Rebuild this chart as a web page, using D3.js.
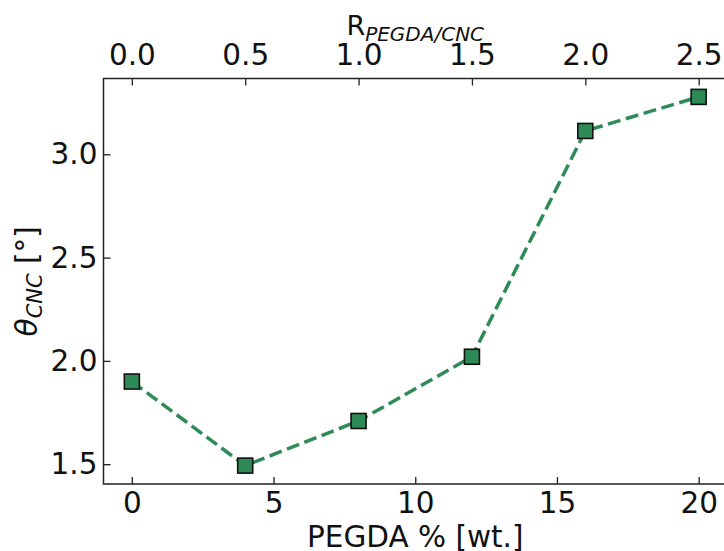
<!DOCTYPE html>
<html><head><meta charset="utf-8">
<script src="https://cdn.jsdelivr.net/npm/d3@7"></script>
<style>body{margin:0;background:#fff;} svg{display:block;font-family:"DejaVu Sans",sans-serif;}</style>
</head><body>
<svg id="c" width="724" height="551"></svg>
<script>
const pegda = [0, 4, 8, 12, 16, 20];
const theta = [1.90, 1.493, 1.709, 2.02, 3.113, 3.278];
const xTicks = [0, 5, 10, 15, 20];
const topTicks = [0.0, 0.5, 1.0, 1.5, 2.0, 2.5];
const yTicks = [1.5, 2.0, 2.5, 3.0];

const svg = d3.select("#c");
const L = 103.5, R = 727, T = 78.5, B = 484;
const x = d3.scaleLinear().domain([-1, 21]).range([L, R]);
const xTop = d3.scaleLinear().domain([-1/8, 21/8]).range([L, R]);
const y = d3.scaleLinear().domain([1.404, 3.367]).range([B, T]);
const fs = 29.5, tc = "#222";

function style(g){
  g.selectAll("path").remove();
  g.selectAll("line").attr("stroke", tc).attr("stroke-width", 1.3);
  g.selectAll("text").attr("font-size", fs).attr("fill", "#111").attr("font-family", "DejaVu Sans");
}
svg.append("g").attr("transform", `translate(0,${B})`)
  .call(d3.axisBottom(x).tickValues(xTicks).tickFormat(d3.format("d")).tickSize(-7).tickPadding(8)).call(style);
svg.append("g").attr("transform", `translate(0,${T})`)
  .call(d3.axisTop(xTop).tickValues(topTicks).tickFormat(d3.format(".1f")).tickSize(-7).tickPadding(14)).call(style);
svg.append("g").attr("transform", `translate(${L},0)`)
  .call(d3.axisLeft(y).tickValues(yTicks).tickFormat(d3.format(".1f")).tickSize(-7).tickPadding(6)).call(style);

// spines
svg.append("rect").attr("x", L).attr("y", T).attr("width", R - L).attr("height", B - T)
  .attr("fill", "none").attr("stroke", "#222").attr("stroke-width", 1.5);

// line
const line = d3.line().x((d,i) => x(pegda[i])).y(d => y(d));
svg.append("path").datum(theta).attr("d", line).attr("fill", "none")
  .attr("stroke", "#2e8b57").attr("stroke-width", 3.5).attr("stroke-dasharray", "13,5.6");
const s = 15;
svg.append("g").selectAll("rect").data(theta).join("rect")
  .attr("x", (d,i) => x(pegda[i]) - s/2).attr("y", d => y(d) - s/2)
  .attr("width", s).attr("height", s).attr("fill", "#2e8b57").attr("stroke", "#111").attr("stroke-width", 1.6);

// labels
const cx = (L + R) / 2;
svg.append("text").attr("x", cx).attr("y", 547).attr("text-anchor", "middle")
  .attr("font-size", fs).attr("fill", "#111").text("PEGDA % [wt.]");
const tt = svg.append("text").attr("x", cx).attr("y", 35).attr("text-anchor", "middle")
  .attr("font-size", 27).attr("fill", "#111");
tt.append("tspan").text("R");
tt.append("tspan").attr("font-size", 20).attr("font-style", "italic").attr("dy", 6).text("PEGDA/CNC");
const yl = svg.append("text").attr("transform", `translate(37,${(T+B)/2}) rotate(-90)`)
  .attr("text-anchor", "middle").attr("font-size", fs).attr("fill", "#111");
yl.append("tspan").attr("font-style", "italic").text("θ");
yl.append("tspan").attr("font-size", 21).attr("font-style", "italic").attr("dy", 5).text("CNC");
yl.append("tspan").attr("dy", -5).text(" [°]");
</script>
</body></html>
